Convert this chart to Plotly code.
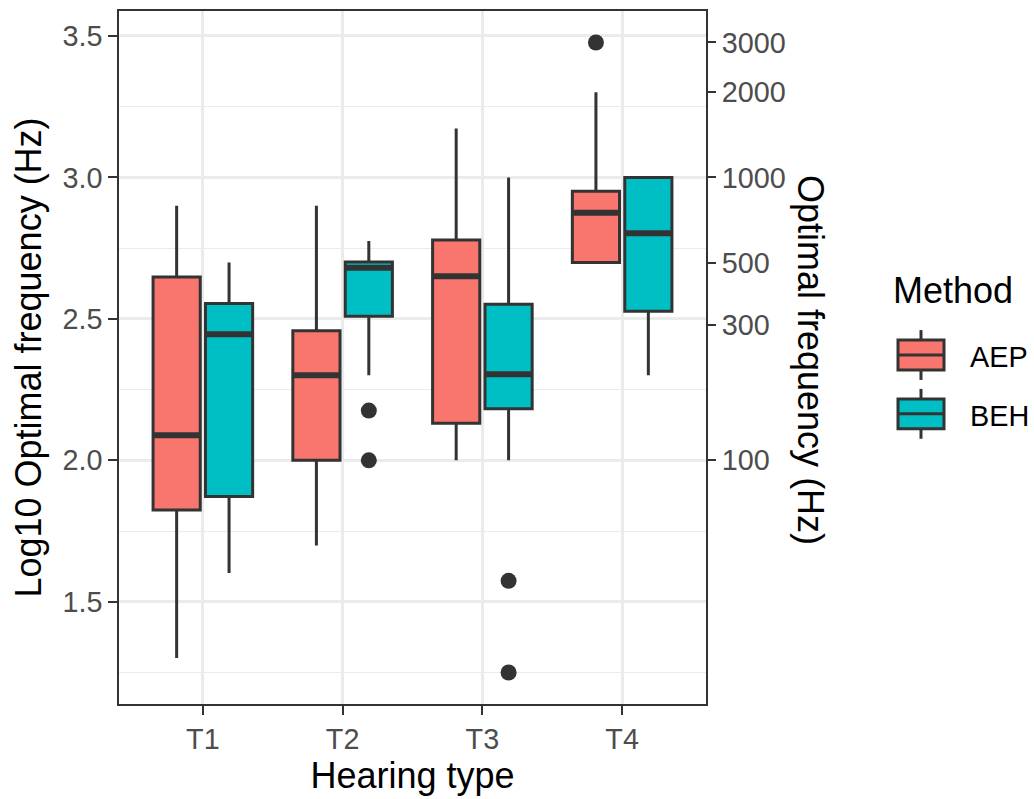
import numpy as np
import plotly.graph_objects as go

# Hearing types on the x axis
types = ["T1", "T2", "T3", "T4"]

# Box statistics of log10 optimal frequency (Hz), AEP method
aep_lower = [1.301, 1.699, 2.000, 2.699]
aep_q1 = [1.824, 2.000, 2.131, 2.699]
aep_median = [2.089, 2.301, 2.651, 2.875]
aep_q3 = [2.648, 2.458, 2.779, 2.951]
aep_upper = [2.900, 2.900, 3.173, 3.301]
aep_out_type = ["T4"]
aep_out_val = [3.477]

# Box statistics of log10 optimal frequency (Hz), BEH method
beh_lower = [1.602, 2.301, 2.000, 2.301]
beh_q1 = [1.872, 2.509, 2.182, 2.527]
beh_median = [2.446, 2.681, 2.304, 2.803]
beh_q3 = [2.554, 2.701, 2.552, 3.000]
beh_upper = [2.699, 2.775, 3.000, 3.000]
beh_out_type = ["T2", "T2", "T3", "T3"]
beh_out_val = [2.176, 2.000, 1.574, 1.250]

# Secondary axis labels in Hz
hz_ticks = [100, 300, 500, 1000, 2000, 3000]

methods = ["AEP", "BEH"]

AEP_COL = "#F8766D"
BEH_COL = "#00BFC4"
INK = "#333333"
GRID = "#EBEBEB"
FONT = "Liberation Sans, Arial, Helvetica, sans-serif"
TITLE_SIZE = 36
TEXT_SIZE = 28.8

W, H = 1034, 799
M_L, M_R, M_T, M_B = 119, 328, 9, 95
PLOT_W = W - M_L - M_R
PLOT_H = H - M_T - M_B

DODGE = 0.75          # total dodge width per category
BOX_W = DODGE / 2 * 0.9
pos_index = {t: i + 1 for i, t in enumerate(types)}

fig = go.Figure()


def add_method(name, color, offset, lower, q1, med, q3, upper, out_type, out_val):
    xs = [pos_index[t] + offset for t in types]
    fig.add_trace(go.Box(
        name=name, x=xs, q1=q1, median=med, q3=q3,
        lowerfence=lower, upperfence=upper,
        width=BOX_W, whiskerwidth=0, boxpoints=False,
        fillcolor=color, line=dict(color=INK, width=3),
        showlegend=False,
    ))
    # thicker median bars
    mx, my = [], []
    for x, m in zip(xs, med):
        mx += [x - BOX_W / 2, x + BOX_W / 2, None]
        my += [m, m, None]
    fig.add_trace(go.Scatter(
        x=mx, y=my, mode="lines", line=dict(color=INK, width=6),
        showlegend=False, hoverinfo="skip",
    ))
    # outlying observations
    fig.add_trace(go.Scatter(
        x=[pos_index[t] + offset for t in out_type], y=out_val,
        mode="markers", marker=dict(color=INK, size=16),
        showlegend=False,
    ))


add_method("AEP", AEP_COL, -DODGE / 4, aep_lower, aep_q1, aep_median,
           aep_q3, aep_upper, aep_out_type, aep_out_val)
add_method("BEH", BEH_COL, DODGE / 4, beh_lower, beh_q1, beh_median,
           beh_q3, beh_upper, beh_out_type, beh_out_val)

# invisible trace so the Hz axis is rendered
fig.add_trace(go.Scatter(x=[None], y=[None], yaxis="y2",
                         showlegend=False, hoverinfo="skip"))

all_vals = (aep_lower + aep_upper + aep_out_val + beh_lower + beh_upper + beh_out_val)
lo, hi = min(all_vals), max(all_vals)
pad = (hi - lo) * 0.05
yrange = [lo - pad, hi + pad]

axis_common = dict(
    ticks="outside", ticklen=9, tickwidth=2, tickcolor=INK,
    tickfont=dict(family=FONT, size=TEXT_SIZE, color="#4D4D4D"),
    zeroline=False,
)


# ---- legend drawn as boxplot keys (pixel positions -> paper coords) ----
def px(xp):
    return (xp - M_L) / PLOT_W


def py(yp):
    return (M_T + PLOT_H - yp) / PLOT_H


shapes = []
annotations = []
key_left, key_right = 898, 944
key_mid = (key_left + key_right) / 2
for i, (name, col) in enumerate(zip(methods, [AEP_COL, BEH_COL])):
    cy = 354 + i * 59
    shapes.append(dict(type="line", xref="paper", yref="paper",
                       x0=px(key_mid), x1=px(key_mid), y0=py(cy - 25), y1=py(cy + 25),
                       line=dict(color=INK, width=3)))
    shapes.append(dict(type="rect", xref="paper", yref="paper",
                       x0=px(key_left), x1=px(key_right), y0=py(cy - 15), y1=py(cy + 15),
                       fillcolor=col, line=dict(color=INK, width=3)))
    shapes.append(dict(type="line", xref="paper", yref="paper",
                       x0=px(key_left), x1=px(key_right), y0=py(cy), y1=py(cy),
                       line=dict(color=INK, width=3)))
    annotations.append(dict(text=name, x=px(968), y=py(cy + 2), xref="paper", yref="paper",
                            xanchor="left", yanchor="middle", showarrow=False,
                            font=dict(size=TEXT_SIZE, color="black", family=FONT)))

annotations.append(dict(text="Method", x=px(891), y=py(289), xref="paper", yref="paper",
                        xanchor="left", yanchor="middle", showarrow=False,
                        font=dict(size=TITLE_SIZE, color="black", family=FONT)))

annotations.append(dict(
    text="Optimal frequency (Hz)", textangle=90,
    x=px(810), y=py(359), xref="paper", yref="paper",
    xanchor="center", yanchor="middle", showarrow=False,
    font=dict(size=TITLE_SIZE, color="black", family=FONT),
))

fig.update_layout(
    width=W, height=H, autosize=False,
    margin=dict(l=M_L, r=M_R, t=M_T, b=M_B, pad=0),
    paper_bgcolor="white", plot_bgcolor="white",
    boxmode="overlay", showlegend=False,
    font=dict(family=FONT, color="black"),
    xaxis=dict(
        range=[0.4, 4.6], tickmode="array",
        tickvals=list(pos_index.values()), ticktext=types,
        showgrid=True, gridcolor=GRID, gridwidth=2.5,
        showline=True, linecolor=INK, linewidth=1.5, mirror=True,
        title=dict(text="Hearing type", font=dict(size=TITLE_SIZE, color="black"),
                   standoff=6),
        **axis_common,
    ),
    yaxis=dict(
        range=yrange, tickmode="linear", tick0=1.5, dtick=0.5, tickformat=".1f",
        showgrid=True, gridcolor=GRID, gridwidth=2.5,
        minor=dict(dtick=0.25, tick0=1.25, showgrid=True, gridcolor=GRID,
                   gridwidth=1.3, ticks=""),
        showline=True, linecolor=INK, linewidth=1.5, mirror=True,
        title=dict(text="Log10 Optimal frequency (Hz)",
                   font=dict(size=TITLE_SIZE, color="black"), standoff=10),
        **axis_common,
    ),
    yaxis2=dict(
        overlaying="y", side="right", anchor="x", range=yrange,
        tickmode="array", tickvals=list(np.log10(hz_ticks)),
        ticktext=[str(v) for v in hz_ticks],
        showgrid=False, showline=False,
        **axis_common,
    ),
    shapes=shapes,
    annotations=annotations,
)

fig.write_html("out.html")
